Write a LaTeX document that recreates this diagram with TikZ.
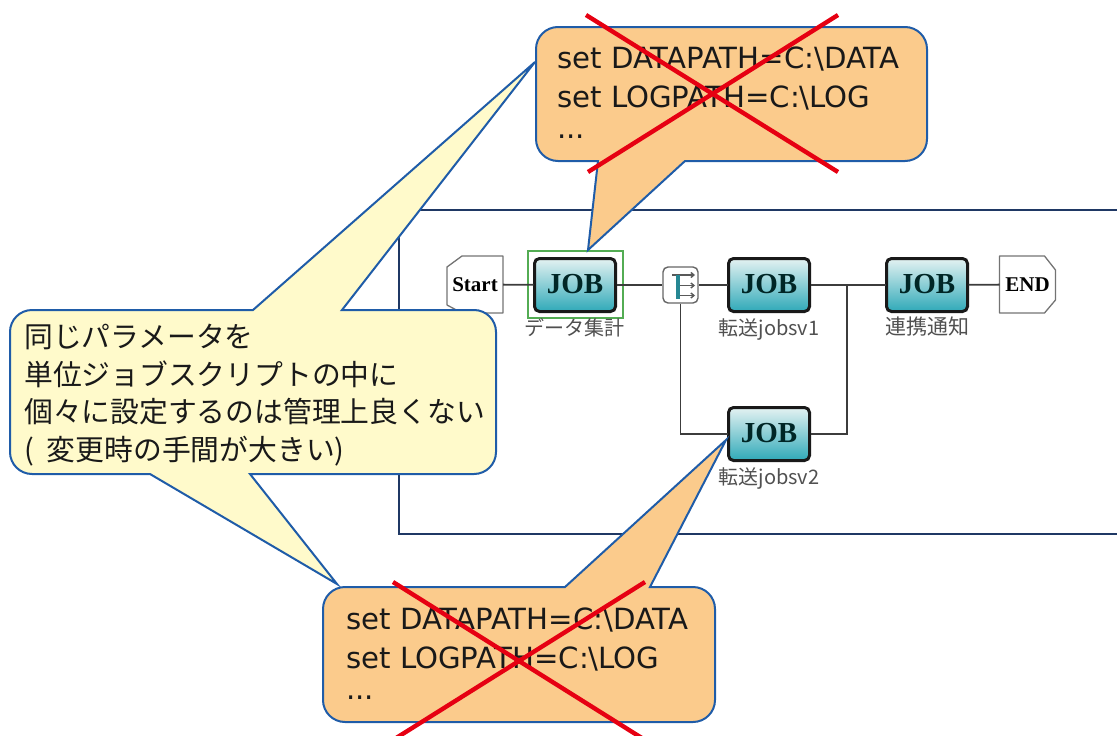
\documentclass[tikz,border=0pt]{standalone}
\usepackage{fontspec}
\setmainfont{DejaVu Sans}
\newfontfamily\cjk{Noto Sans CJK JP}
\newfontfamily\jobfont{Liberation Serif}
\usetikzlibrary{arrows.meta}
\definecolor{calloutblue}{HTML}{1F5CA8}
\definecolor{calloutorange}{HTML}{FBCB8C}
\definecolor{calloutyellow}{HTML}{FFFACB}
\definecolor{crossred}{HTML}{E60012}
\definecolor{jobtop}{HTML}{E4F2F2}
\definecolor{jobbot}{HTML}{2FA9B8}
\definecolor{framenavy}{HTML}{1F3864}
\definecolor{flowgray}{HTML}{3C3C3C}
\definecolor{labelgray}{HTML}{505050}
\newcommand{\jobtxt}{\raisebox{3pt}{JOB}}
\tikzset{
  x=1pt,y=-1pt,
  callout/.style={draw=calloutblue,line width=2pt,line join=miter},
  crossline/.style={draw=crossred,line width=4.4pt},
  jobbox/.style={draw=black!90,line width=3pt,rounded corners=5pt,minimum width=81pt,minimum height=53pt,
    top color=jobtop,bottom color=jobbot,inner sep=0pt,outer sep=1pt,
    font=\jobfont\fontsize{29}{29}\selectfont\bfseries,text=black!70!teal},
  jobname/.style={font=\cjk\fontsize{20}{22}\selectfont,text=labelgray,inner sep=0pt},
  term/.style={minimum width=56pt,minimum height=57pt,inner sep=0pt,outer sep=0pt,
    font=\jobfont\fontsize{21}{21}\selectfont\bfseries},
  termline/.style={draw=black!55,line width=1.3pt,line join=round},
  flow/.style={draw=flowgray,line width=1.8pt},
  forkarrow/.style={draw=black!65,line width=1.4pt,-{Straight Barb[length=3pt,width=5pt]}},
  codetext/.style={align=left,anchor=north west,inner sep=0pt,text=black!90,
    font=\fontsize{29.2}{39}\selectfont},
  notetext/.style={align=left,anchor=north west,inner sep=0pt,text=black!90,
    font=\cjk\fontsize{28.8}{37.5}\selectfont},
}
\begin{document}
\begin{tikzpicture}
\useasboundingbox (0,0) rectangle (1117,736);
\begin{scope}
\clip (0,0) rectangle (1117,736);
% frame
\draw[framenavy,line width=1.5pt] (1118,210) -- (399,210) -- (399,534) -- (1118,534);
% workflow
\node[draw=green!35!gray,fill=none,line width=1.2pt,minimum width=95pt,minimum height=67pt,inner sep=0pt] (sel) at (575.5,284.5) {};
\node[term] (start) at (475,284.5) {Start};
\draw[termline] ([xshift=15pt]start.north west) -- (start.north east) -- (start.south east)
  -- ([xshift=15pt]start.south west) -- ([yshift=8pt]start.south west) -- ([yshift=-11pt]start.north west) -- cycle;
\node[jobbox] (job1) at (575,285) {\jobtxt};
\node[draw=black!60,line width=1.4pt,rounded corners=5pt,fill=white,minimum width=35pt,minimum height=36pt,inner sep=0pt] (fork) at (680.5,285) {};
\draw[forkarrow] (672,275) -- (695,275);
\draw[forkarrow] (680,285.5) -- (695,285.5);
\draw[forkarrow] (680,295.5) -- (695,295.5);
\draw[draw=jobbot!80!black,line width=3.5pt] (678,275) -- (678,299);
\node[jobbox] (job2) at (769,285) {\jobtxt};
\node[jobbox] (job3) at (927,285) {\jobtxt};
\node[term] (end) at (1027.5,284.5) {END};
\draw[termline] (end.north west) -- ([xshift=-11pt]end.north east) -- ([yshift=-14pt]end.north east)
  -- ([yshift=13pt]end.south east) -- ([xshift=-11pt]end.south east) -- (end.south west) -- cycle;
\node[jobbox] (job4) at (769,434) {\jobtxt};
\node[jobname,anchor=north] (n1) at (574,318) {データ集計};
\node[jobname,anchor=north] (n2) at (769,318) {転送jobsv1};
\node[jobname,anchor=north,font=\cjk\fontsize{21}{22}\selectfont] (n3) at (927,317) {連携通知};
\node[jobname,anchor=north] (n4) at (769,467) {転送jobsv2};
\coordinate (merge) at (847,285);
\draw[flow] (start) -- (job1);
\draw[flow] (job1) -- (fork);
\draw[flow] (fork) -- (job2);
\draw[flow] (job2) -- (job3);
\draw[flow] (job3) -- (end);
\draw[flow] (fork.south) |- (job4.west);
\draw[flow] (job4.east) -| (merge);
% yellow callout
\path[callout,fill=calloutyellow]
  (342,310) [rounded corners=22pt] -- (496,310) -- (496,474) [sharp corners] -- (250,474)
  -- (337,584) -- (150,474) [rounded corners=22pt] -- (10,474) -- (10,310) [sharp corners] -- (253,310) -- (535,62) -- cycle;
\node[notetext] (note) at (24,324) {同じパラメータを\\単位ジョブスクリプトの中に\\個々に設定するのは管理上良くない\\(\hspace*{13pt}変更時の手間が大きい)};
% top orange callout
\path[callout,fill=calloutorange]
  (685,161) [rounded corners=22pt] -- (927,161) -- (927,27) -- (536,27) -- (536,161) [sharp corners] -- (598,161) -- (588,250) -- cycle;
\node[codetext] (code1) at (557,47) {set DATAPATH=C:\textbackslash DATA\\set LOGPATH=C:\textbackslash LOG\\[-8pt]...};
% bottom orange callout
\path[callout,fill=calloutorange]
  (650,587) [rounded corners=22pt] -- (715,587) -- (715,722) -- (323,722) -- (323,587) [sharp corners] -- (565,587) -- (726,440) -- cycle;
\node[codetext] (code2) at (346,608) {set DATAPATH=C:\textbackslash DATA\\set LOGPATH=C:\textbackslash LOG\\[-8pt]...};
% crosses
\coordinate (a1) at (586,15); \coordinate (a2) at (838,172);
\coordinate (a3) at (838,15); \coordinate (a4) at (588,172);
\draw[crossline] (a1) -- (a2);
\draw[crossline] (a3) -- (a4);
\coordinate (b1) at (393,582); \coordinate (b2) at (645,740);
\coordinate (b3) at (645,582); \coordinate (b4) at (393,740);
\draw[crossline] (b1) -- (b2);
\draw[crossline] (b3) -- (b4);
\end{scope}
\end{tikzpicture}
\end{document}
